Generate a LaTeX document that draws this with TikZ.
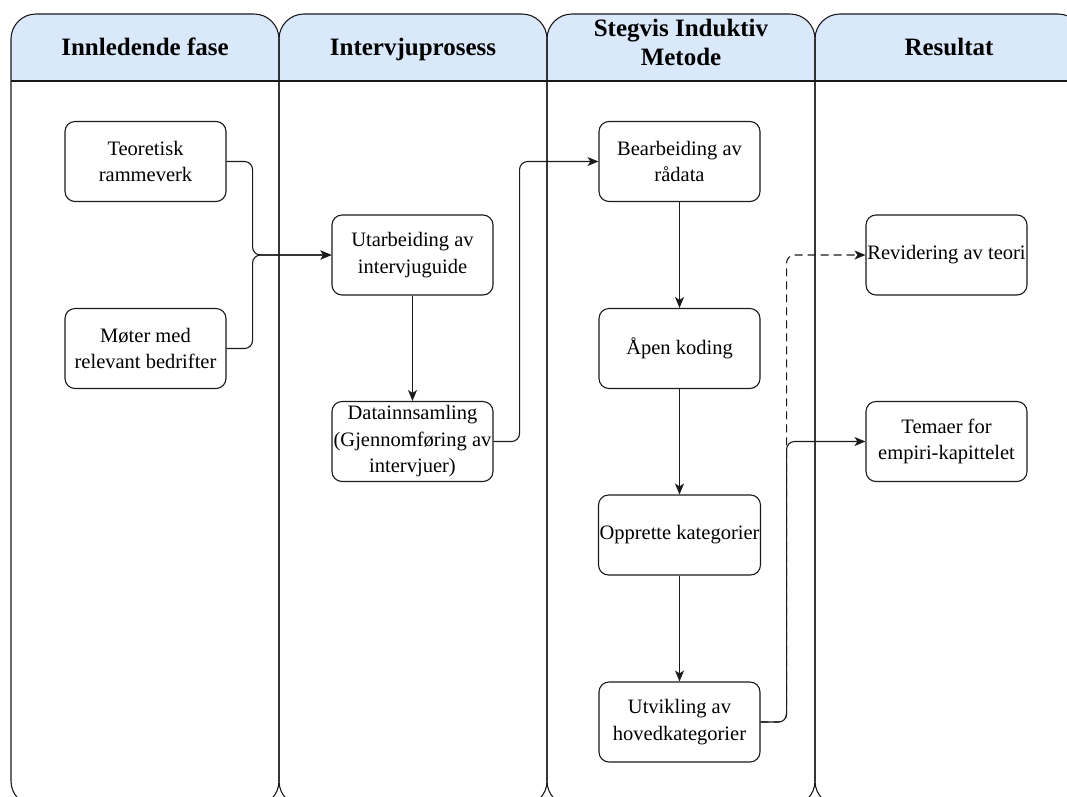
\documentclass[tikz,border=0pt]{standalone}
\usepackage{fontspec}
\setmainfont{Liberation Serif}
\usetikzlibrary{arrows.meta}
\definecolor{hdrblue}{HTML}{DAE8FC}
\definecolor{edge}{HTML}{1A1A1A}
\tikzset{
  lane/.style={draw=edge, line width=1.1pt, rounded corners=25pt},
  lanehead/.style={fill=hdrblue, rounded corners=25pt},
  headtext/.style={font=\bfseries\fontsize{25}{28.5}\selectfont, align=center, inner sep=0pt},
  stepbox/.style={draw=edge, line width=1.1pt, rounded corners=10pt, fill=white,
    minimum width=161pt, minimum height=80pt, align=center, inner sep=1pt,
    font=\fontsize{20.5}{26.5}\selectfont},
  flow/.style={draw=edge, line width=1.1pt, rounded corners=8pt,
    -{Stealth[length=11pt,width=9pt,inset=3pt]}},
  optional/.style={flow, dash pattern=on 8pt off 5pt}
}
\begin{document}
\begin{tikzpicture}[x=1pt,y=-1pt]
\useasboundingbox (0,0) rectangle (1067,796);

% swimlanes: blue title strip, outline and title rule
\begin{scope}
  \clip (0,0) rectangle (1067,796);
  \begin{scope}
    \clip (0,0) rectangle (1067,81);
    \foreach \xl/\xr in {11/279, 279/547, 547/815, 815/1083}
      \fill[lanehead] (\xl,14) rectangle (\xr,806);
  \end{scope}
  \foreach \xl/\xr in {11/279, 279/547, 547/815, 815/1083} {
    \draw[lane] (\xl,14) rectangle (\xr,806);
    \draw[draw=edge, line width=1.1pt] (\xl,81) -- (\xr,81);
  }
\end{scope}

% lane titles
\node[headtext, anchor=base] (h1) at (145,55.5) {Innledende fase};
\node[headtext, anchor=base] (h2) at (413,55.5) {Intervjuprosess};
\node[headtext] (h3) at (681,42.5) {Stegvis Induktiv\\Metode};
\node[headtext, anchor=base] (h4) at (949,55.5) {Resultat};

% process steps
\node[stepbox] (teo) at (145.5,161.5) {Teoretisk\\rammeverk};
\node[stepbox] (mot) at (145.5,348.5) {Møter med\\relevant bedrifter};
\node[stepbox] (utb) at (412.5,255) {Utarbeiding av\\intervjuguide};
\node[stepbox] (dat) at (412.5,441.5) {Datainnsamling\\(Gjennomføring av\\intervjuer)};
\node[stepbox] (bea) at (679.5,161.5) {Bearbeiding av\\rådata};
\node[stepbox] (apn) at (679.5,348.5) {Åpen koding};
\node[stepbox] (opp) at (679.5,535) {Opprette kategorier};
\node[stepbox] (utv) at (679.5,722) {Utvikling av\\hovedkategorier};
\node[stepbox] (rev) at (946.5,255) {Revidering av teori};
\node[stepbox] (tem) at (946.5,441.5) {Temaer for\\empiri-kapittelet};

% connectors
\draw[optional] (utv.east) -- ++(26,0) |- (rev.west);
\draw[flow] (teo.east) -- ++(26,0) |- (utb.west);
\draw[flow] (mot.east) -- ++(26,0) |- (utb.west);
\draw[flow] (utb) -- (dat);
\draw[flow] (dat.east) -- ++(26,0) |- (bea.west);
\draw[flow] (bea) -- (apn);
\draw[flow] (apn) -- (opp);
\draw[flow] (opp) -- (utv);
\draw[flow] (utv.east) -- ++(26,0) |- (tem.west);
\end{tikzpicture}
\end{document}
